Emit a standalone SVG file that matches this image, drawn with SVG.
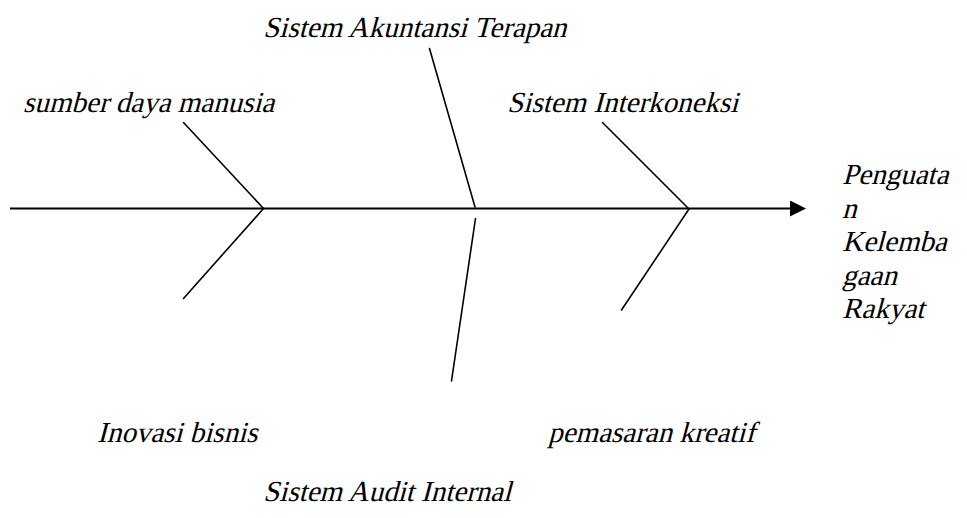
<svg xmlns="http://www.w3.org/2000/svg" width="967" height="518" viewBox="0 0 967 518">
  <style>
    .spine { stroke: #000; stroke-width: 2.2; fill: none; }
    .bone { stroke: #000; stroke-width: 1.6; fill: none; stroke-linecap: round; }
  </style>
  <defs>
    <marker id="head" markerWidth="16" markerHeight="16" refX="0" refY="8" orient="auto" markerUnits="userSpaceOnUse">
      <path d="M0,0 L16,8 L0,16 Z" fill="#000"/>
    </marker>
  </defs>
  <rect width="967" height="518" fill="#fff"/>

  <!-- spine and bones -->
  <g id="connectors">
    <line class="spine" x1="10" y1="208.5" x2="790" y2="208.5" marker-end="url(#head)"/>
    <line class="bone" x1="183.5" y1="122.5" x2="263.5" y2="208.5"/>
    <line class="bone" x1="263.5" y1="208.5" x2="183.5" y2="298.5"/>
    <line class="bone" x1="429.5" y1="48.5" x2="475" y2="207"/>
    <line class="bone" x1="475.5" y1="218.5" x2="451.5" y2="381"/>
    <line class="bone" x1="602.5" y1="122.5" x2="689" y2="209"/>
    <line class="bone" x1="689" y1="209" x2="621.5" y2="310"/>
  </g>

  <!-- labels: upright serif, slanted by a skew on the enclosing group -->
  <g id="cause-sdm" transform="translate(23 112) skewX(-15)"><text font-family="Liberation Serif" font-size="29" x="0" y="0">sumber daya manusia</text></g>
  <g id="cause-akuntansi" transform="translate(263 37) skewX(-15)"><text font-family="Liberation Serif" font-size="29" x="0" y="0">Sistem Akuntansi Terapan</text></g>
  <g id="cause-interkoneksi" transform="translate(507 112) skewX(-15)"><text font-family="Liberation Serif" font-size="29" x="0" y="0">Sistem Interkoneksi</text></g>
  <g id="cause-inovasi" transform="translate(97 442) skewX(-15)"><text font-family="Liberation Serif" font-size="29" x="0" y="0">Inovasi bisnis</text></g>
  <g id="cause-pemasaran" transform="translate(548 442) skewX(-15)"><text font-family="Liberation Serif" font-size="29" x="0" y="0">pemasaran kreatif</text></g>
  <g id="cause-audit" transform="translate(263 501) skewX(-15)"><text font-family="Liberation Serif" font-size="29" x="0" y="0">Sistem Audit Internal</text></g>
  <g id="effect" transform="translate(842 0)">
    <g transform="translate(0 184) skewX(-15)"><text font-family="Liberation Serif" font-size="29" x="0" y="0">Penguata</text></g>
    <g transform="translate(0 218) skewX(-15)"><text font-family="Liberation Serif" font-size="29" x="0" y="0">n</text></g>
    <g transform="translate(0 251) skewX(-15)"><text font-family="Liberation Serif" font-size="29" x="0" y="0">Kelemba</text></g>
    <g transform="translate(0 285) skewX(-15)"><text font-family="Liberation Serif" font-size="29" x="0" y="0">gaan</text></g>
    <g transform="translate(0 318) skewX(-15)"><text font-family="Liberation Serif" font-size="29" x="0" y="0">Rakyat</text></g>
  </g>
</svg>
